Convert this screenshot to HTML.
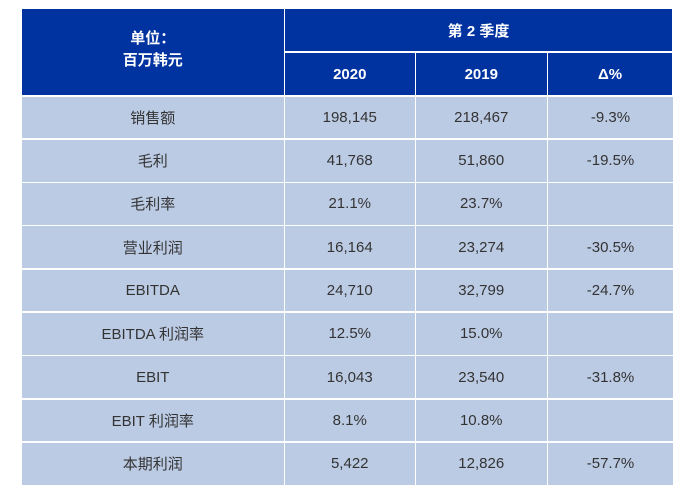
<!DOCTYPE html>
<html><head><meta charset="utf-8"><style>
body{margin:0;background:#fff;width:695px;height:500px;position:relative;font-family:"Liberation Sans","Noto Sans CJK SC",sans-serif;}
.c{position:absolute;display:flex;align-items:center;justify-content:center;box-sizing:border-box;font-size:15px;color:#333;background:#bccbe4;}
.h{background:#0033a0;color:#fff;font-weight:bold;}
</style></head><body>
<div id="t"></div>
<script>
var cols=[22,285,416,548,673];
var html='';
function cell(x1,y1,x2,y2,txt,cls){html+='<div class="c '+(cls||'')+'" style="left:'+x1+'px;top:'+y1+'px;width:'+(x2-x1-1.5)+'px;height:'+(y2-y1-1.5)+'px">'+txt+'</div>';}
cell(22,9,285,96.5,'<div style="text-align:center;line-height:22px;margin-top:-4px">单位：<br>百万韩元</div>','h');
cell(285,9,673.5,52.5,'第 2 季度','h');
cell(285,52.5,416,96.5,'<span style="margin-top:2px">2020</span>','h');
cell(416,52.5,548,96.5,'<span style="margin-top:2px">2019</span>','h');
cell(548,52.5,673.5,96.5,'<span style="margin-top:2px">Δ%</span>','h');
var d=[["销售额","198,145","218,467","-9.3%"],["毛利","41,768","51,860","-19.5%"],["毛利率","21.1%","23.7%",""],["营业利润","16,164","23,274","-30.5%"],["EBITDA","24,710","32,799","-24.7%"],["EBITDA 利润率","12.5%","15.0%",""],["EBIT","16,043","23,540","-31.8%"],["EBIT 利润率","8.1%","10.8%",""],["本期利润","5,422","12,826","-57.7%"]];
var y0=96.5,rh=43.3;
d.forEach(function(r,i){var y1=y0+i*rh,y2=y1+rh;for(var j=0;j<4;j++)cell(cols[j],y1,j==3?674.5:cols[j+1],y2,r[j]);});
document.getElementById('t').innerHTML=html;
</script>
</body></html>
